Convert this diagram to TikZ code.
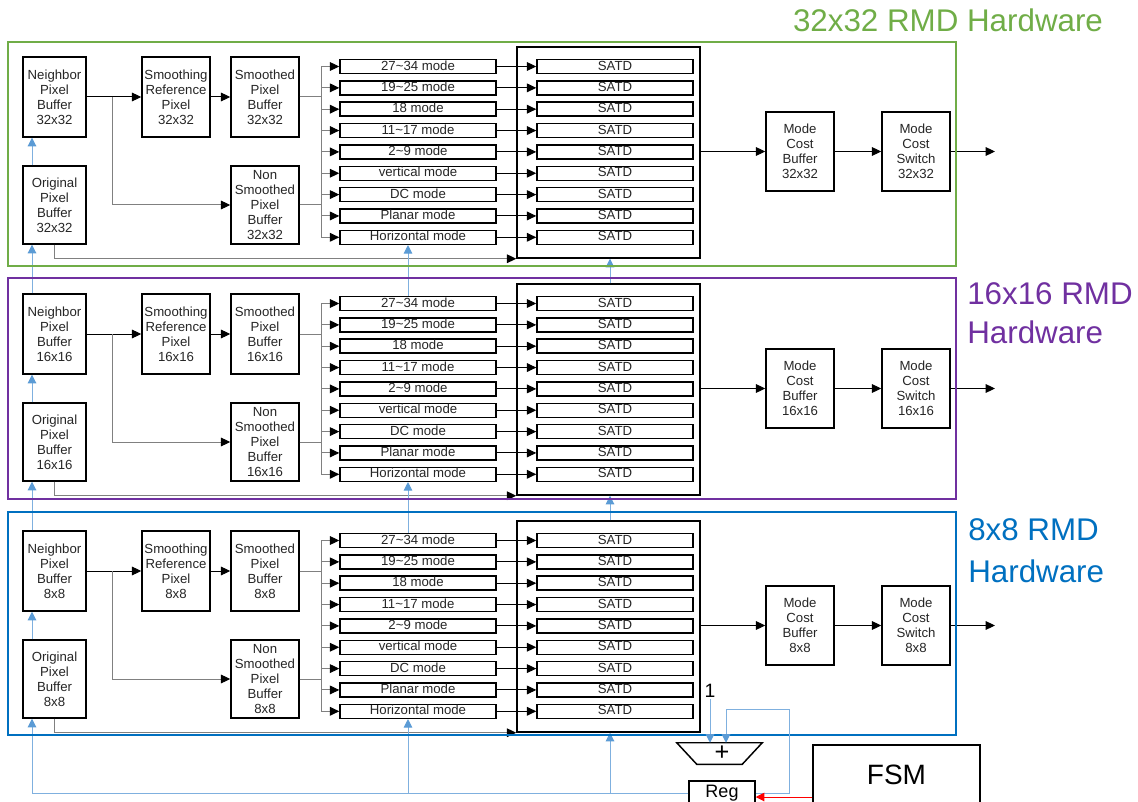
\documentclass[tikz,border=0pt]{standalone}
\usepackage{fontspec}
\setmainfont{Liberation Sans}
\usetikzlibrary{arrows.meta,calc}
\definecolor{cgreen}{HTML}{70AD47}
\definecolor{cpurple}{HTML}{7030A0}
\definecolor{cblue}{HTML}{0070C0}
\definecolor{lblue}{HTML}{5B9BD5}
\definecolor{llblue}{HTML}{7FB0DF}
\definecolor{lgray}{HTML}{808080}
\begin{document}
\begin{tikzpicture}[x=0.75pt,y=-0.75pt,
 box/.style={draw=black,line width=1.1pt,fill=white,align=center,inner sep=0pt,text=black!85,font=\fontsize{9.9}{11.3}\selectfont},
 mbox/.style={draw=black,line width=1.1pt,fill=white,inner sep=0pt,minimum width=117pt,minimum height=10.5pt,text height=7pt,text depth=1.5pt,text=black!85,font=\fontsize{9.9}{10}\selectfont},
 arr/.style={draw=black,line width=0.75pt,-{Triangle[length=7pt,width=6.5pt]}},
 garr/.style={draw=lgray,line width=0.75pt,-{Triangle[length=7pt,width=6.5pt,color=black]}},
 gline/.style={draw=lgray,line width=0.75pt},
 fb/.style={draw=llblue,line width=0.75pt},
 fbarr/.style={fb,-{Triangle[length=6.5pt,width=6.5pt,color=lblue]}},
 hwframe/.style={line width=2.2pt},
 title/.style={font=\fontsize{23.5}{28}\selectfont,inner sep=0pt},
]
\useasboundingbox (0,0) rectangle (1138,802);
\clip (0,0) rectangle (1138,802);

\foreach \k/\s in {0/32x32,1/16x16,2/8x8}{
 \pgfmathsetmacro{\dy}{237*\k}
 \node[box,minimum width=47.25pt,minimum height=60pt] (nb\k) at (54.5,97+\dy) {Neighbor\\Pixel\\Buffer\\\s};
 \node[box,minimum width=47.25pt,minimum height=58.5pt] (ob\k) at (54.5,205+\dy) {Original\\Pixel\\Buffer\\\s};
 \node[box,minimum width=51pt,minimum height=60pt] (sr\k) at (176,97+\dy) {Smoothing\\Reference\\Pixel\\\s};
 \node[box,minimum width=51pt,minimum height=60pt] (sd\k) at (265,97+\dy) {Smoothed\\Pixel\\Buffer\\\s};
 \node[box,minimum width=51pt,minimum height=58.5pt] (ns\k) at (265,205+\dy) {Non\\Smoothed\\Pixel\\Buffer\\\s};
 \node[draw=black,line width=1.1pt,fill=white,minimum width=137.25pt,minimum height=158.25pt,inner sep=0pt] (ct\k) at (608.5,152.5+\dy) {};
 \node[box,minimum width=51pt,minimum height=59.25pt] (mcb\k) at (800,151.5+\dy) {Mode\\Cost\\Buffer\\\s};
 \node[box,minimum width=51pt,minimum height=59.25pt] (mcs\k) at (916,151.5+\dy) {Mode\\Cost\\Switch\\\s};
 \coordinate (bus\k) at (321,97+\dy);
 \coordinate (out\k) at (995,151.5+\dy);
 \coordinate (br\k) at (112,97+\dy);
 \foreach \i/\t in {0/27\textasciitilde34 mode,1/19\textasciitilde25 mode,2/18 mode,3/11\textasciitilde17 mode,4/2\textasciitilde9 mode,5/vertical mode,6/DC mode,7/Planar mode,8/Horizontal mode}{
   \node[mbox] (m\k-\i) at (418,66.5+21.35*\i+\dy) {\t};
   \node[mbox] (s\k-\i) at (615,66.5+21.35*\i+\dy) {SATD};
   \draw[garr] (m\k-\i.west -| bus\k) -- (m\k-\i.west);
   \draw[arr] (m\k-\i.east) -- (s\k-\i.west);
 }
 \draw[arr] (nb\k.east) -- (sr\k.west);
 \draw[garr] (br\k) |- (ns\k.west);
 \draw[arr] (sr\k.east) -- (sd\k.west);
 \draw[gline] (sd\k.east) -- (sd\k.east -| bus\k);
 \draw[gline] (ns\k.east) -- (ns\k.east -| bus\k);
 \draw[gline] (m\k-0.west -| bus\k) -- (m\k-8.west -| bus\k);
 \draw[garr] (ob\k.south) |- (ct\k.south west);
 \draw[arr] (mcb\k.west -| ct\k.east) -- (mcb\k.west);
 \draw[arr] (mcb\k.east) -- (mcs\k.west);
 \draw[arr] (mcs\k.east) -- (out\k);
}

% bottom control
\node[draw=black,line width=1.1pt,fill=white,minimum width=49.5pt,minimum height=18pt,inner sep=0pt,font=\fontsize{13.5}{15}\selectfont] (reg) at (722,793) {Reg};
\node[draw=black,line width=1.1pt,minimum width=125.25pt,minimum height=45pt,font=\fontsize{21}{25}\selectfont] (fsm) at (896.5,775) {FSM};
\node[font=\fontsize{14.5}{16}\selectfont,inner sep=1pt] (one) at (710,691) {1};
\node[minimum width=63.75pt,minimum height=15.75pt,inner sep=0pt] (adder) at (719.5,753.5) {};
\draw[line width=1.1pt] (adder.north west) -- (adder.north east) -- ($(adder.south east)+(-20,0)$) -- ($(adder.south west)+(20,0)$) -- cycle;
\node[font=\fontsize{19}{20}\selectfont,inner sep=0pt] (plus) at (722,753) {+};

% feedback lines
\coordinate (fx) at (32,0);
\coordinate (fm) at (408,0);
\coordinate (fs) at (610,0);
\draw[fbarr] (reg.west) -| (ob2.south -| fx);
\draw[fbarr] (reg.west -| fm) -- (m2-8.south -| fm);
\draw[fbarr] (reg.west -| fs) -- (ct2.south -| fs);
\foreach \k in {0,1,2}{
 \draw[fbarr] (ob\k.north -| fx) -- (nb\k.south -| fx);
}
\foreach \k/\km in {1/0,2/1}{
 \draw[fbarr] (nb\k.north -| fx) -- (ob\km.south -| fx);
 \draw[fbarr] (m\k-0.north -| fm) -- (m\km-8.south -| fm);
 \draw[fbarr] (ct\k.north -| fs) -- (ct\km.south -| fs);
}

% frames
\draw[hwframe,draw=cgreen] (8,42) rectangle (956,266);
\draw[hwframe,draw=cpurple] (8,278) rectangle (956,499);
\draw[hwframe,draw=cblue] (8,512) rectangle (956,735);

\coordinate (lp1) at (789,709);
\coordinate (lp2) at (726,709);
\draw[fbarr] (reg.east) -| (lp1) -- (lp2) -- (lp2 |- adder.north);
\draw[fbarr] (one.south) -- (one.south |- adder.north);
\coordinate (fr) at ([yshift=-16.5pt]fsm.west);
\draw[draw=red,line width=0.75pt,-{Triangle[length=6.5pt,width=6.5pt]}] (fr) -- (fr -| reg.east);

% titles
\node[title,text=cgreen,anchor=base] (t0) at (948,32) {32x32 RMD Hardware};
\node[title,text=cpurple,anchor=base west] (t1a) at (967,305) {16x16 RMD};
\node[title,text=cpurple,anchor=base west] (t1b) at (967,343) {Hardware};
\node[title,text=cblue,anchor=base west] (t2a) at (968,540) {8x8 RMD};
\node[title,text=cblue,anchor=base west] (t2b) at (968,582) {Hardware};
\end{tikzpicture}
\end{document}
